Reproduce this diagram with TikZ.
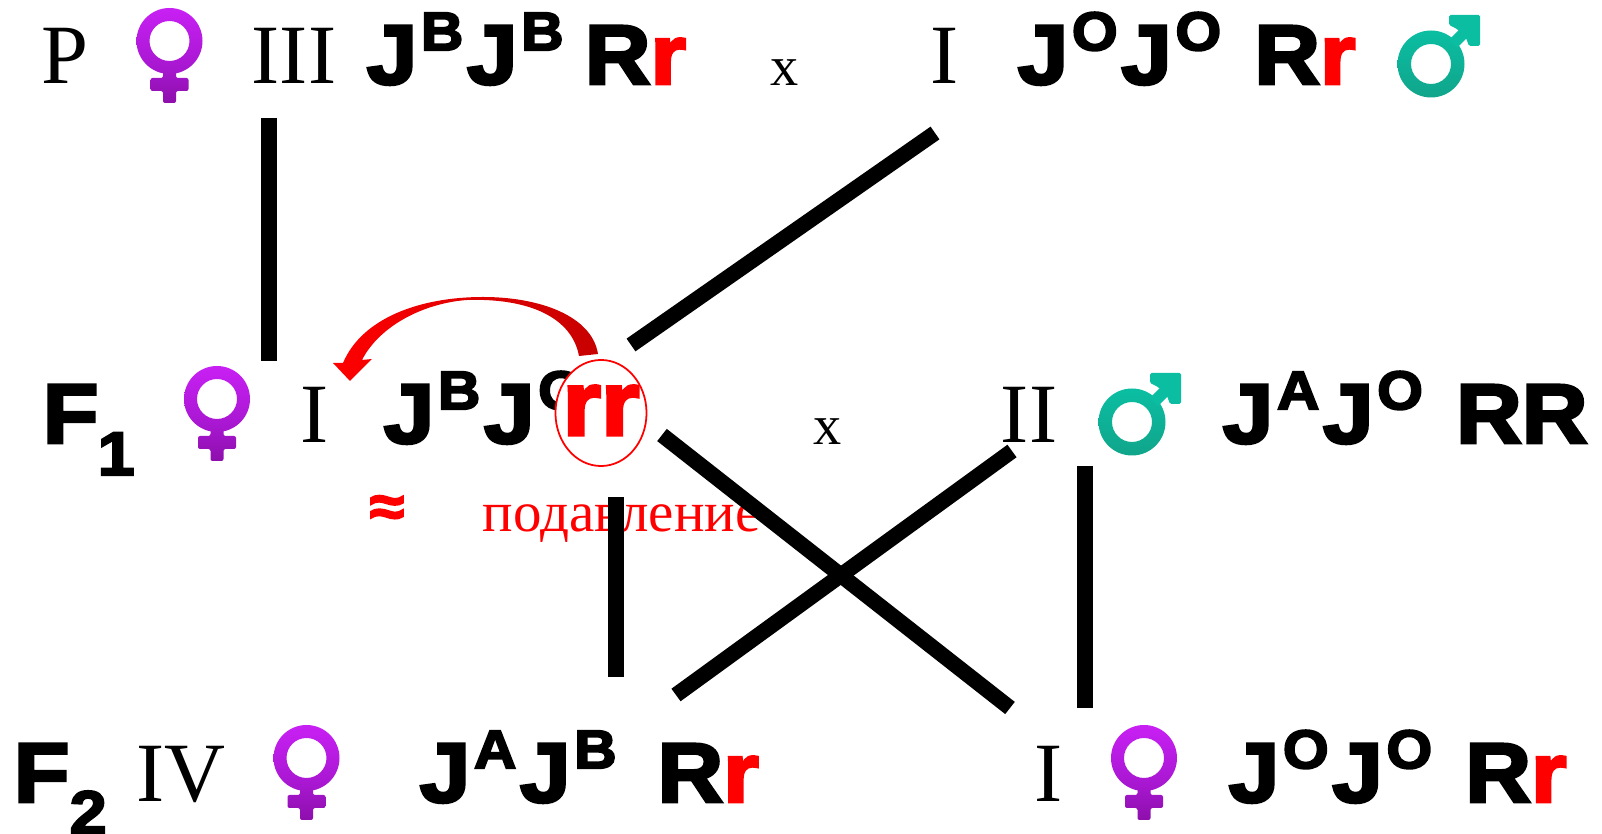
\documentclass[tikz,border=0pt]{standalone}
\usepackage{fontspec}
\usepackage{tikz}
\usetikzlibrary{shapes.geometric}
\setmainfont{Liberation Serif}
\newfontfamily\genefont[FakeBold=3.5,FakeStretch=1.08]{Liberation Sans Bold}
\definecolor{femtop}{HTML}{C820F4}
\definecolor{femmid}{HTML}{A416CC}
\definecolor{fembot}{HTML}{8E0FAC}
\definecolor{maletop}{HTML}{0BBEA2}
\definecolor{malebot}{HTML}{10A58B}
\newcommand{\gsup}[1]{\kern1pt\raisebox{9.6pt}{\fontsize{15.5}{16}\selectfont #1}\kern1pt}
\newcommand{\rr}{\textcolor{red}{r}}
\tikzset{
  genotype/.style={anchor=base west,inner sep=0pt,font=\genefont\fontsize{24}{26}\selectfont},
  roman/.style={anchor=base,inner sep=0pt,font=\fontsize{24}{26}\selectfont},
  crossmark/.style={anchor=base,inner sep=0pt,font=\fontsize{16}{18}\selectfont},
  gensub/.style={anchor=base west,inner sep=0pt,font=\genefont\fontsize{17.5}{20}\selectfont},
  crossline/.style={line width=0.155cm},
  stemline/.style={line width=0.16cm},
  femalesign/.pic={
    \shade[top color=femtop,bottom color=femmid,even odd rule] (0,0) circle[radius=33] (0,0) circle[radius=20];
    \shade[top color=femmid,bottom color=fembot,rounded corners=0.02cm] (-6.5,30) -- (6.5,30) -- (6.5,37) -- (19,37) -- (19,50) -- (6.5,50) -- (6.5,62) -- (-6.5,62) -- (-6.5,50) -- (-19,50) -- (-19,37) -- (-6.5,37) -- cycle;
  },
  malesign/.pic={
    \shade[top color=maletop,bottom color=malebot,even odd rule] (0,0) circle[radius=33.5] (0,0) circle[radius=20];
    \fill[maletop] (18,-24) -- (26,-16) -- (40,-30) -- (32,-38) -- cycle;
    \fill[maletop,rounded corners=0.015cm] (18,-49) -- (49,-49) -- (49,-18) -- (38,-18) -- (35,-26) -- (26,-35) -- (18,-39) -- cycle;
  }
}
\begin{document}
\begin{tikzpicture}[x=0.01cm,y=-0.01cm]
    \useasboundingbox (0,0) rectangle (1602,834);
    % row P
    \node[roman] (genP) at (65,84) {P};
    \pic (femP) at (169.5,41) {femalesign};
    \node[roman] (numP) at (294,84) {III};
    \node[genotype] (geneP) at (366,84) {J\gsup{B}J\gsup{B}\hspace*{5pt}R\rr};
    \node[crossmark] (crossP) at (785,86) {x};
    \node[roman] (numPm) at (945,84) {I};
    \node[genotype] (genePm) at (1017,84) {J\gsup{O}J\gsup{O}\hspace*{8.4pt}R\rr};
    \pic (maleP) at (1431,64) {malesign};
    % row F1
    \node[genotype] (genF) at (42,443) {F};
    \node[gensub] (subF) at (97,475) {1};
    \pic (femF) at (217,399) {femalesign};
    \node[roman] (numF) at (315,443) {I};
    \node[genotype] (geneF) at (383,443) {J\gsup{B}J\gsup{O}};
    \node[ellipse,draw=red,line width=0.5pt,fill=white,inner sep=0pt,minimum width=0.91cm,minimum height=1.06cm] (circF) at (601,413) {};
    \node[genotype,text=red,anchor=base,font=\genefont\fontsize{26}{28}\selectfont] (rrF) at (601,435) {rr};
    \node[crossmark] (crossF) at (828,445) {x};
    \node[roman] (numFm) at (1029,443) {II};
    \pic (maleF) at (1132,422) {malesign};
    \node[genotype] (geneFm) at (1222,443) {J\gsup{A}J\gsup{O}\hspace*{8.4pt}RR};
    % suppression
    \node[anchor=center,inner sep=0pt,text=red,font=\genefont\fontsize{16.5}{18}\selectfont] (approx) at (387,511) {≈};
    \node[anchor=base west,inner sep=0pt,text=red,font=\fontsize{16.2}{18}\selectfont] (supp) at (482,532) {подавление};
    % row F2
    \node[genotype] (genS) at (13,802) {F};
    \node[gensub] (subS) at (69,834) {2};
    \node[roman] (numS) at (181,802) {IV};
    \pic (femS) at (306.5,758) {femalesign};
    \node[genotype] (geneS) at (419,802) {J\gsup{A}J\gsup{B}\hspace*{10.6pt}R\rr};
    \node[roman] (numSm) at (1049,802) {I};
    \pic (femSm) at (1144,758) {femalesign};
    \node[genotype] (geneSm) at (1228,802) {J\gsup{O}J\gsup{O}\hspace*{8.4pt}R\rr};
    % connectors
    \coordinate (a1) at (269,118); \coordinate (a2) at (269,361);
    \coordinate (b1) at (935,133); \coordinate (b2) at (631,345);
    \coordinate (c1) at (662,435); \coordinate (c2) at (1010,708);
    \coordinate (d1) at (1012,451); \coordinate (d2) at (676,695);
    \coordinate (e1) at (616,497); \coordinate (e2) at (616,677);
    \coordinate (f1) at (1085,466); \coordinate (f2) at (1085,708);
    \draw[stemline] (a1) -- (a2);
    \draw[crossline] (b1) -- (b2);
    \draw[crossline] (c1) -- (c2);
    \draw[crossline] (d1) -- (d2);
    \draw[stemline] (e1) -- (e2);
    \draw[stemline] (f1) -- (f2);
    % curved arrow
    \shade[left color=red,middle color=red,right color=red!78!black]
      (598,354) .. controls (592,316) and (540,297) .. (483,297)
      .. controls (420,297) and (362,318) .. (343,363)
      -- (333,363) -- (350,381) -- (372,359) -- (362,360)
      .. controls (380,325) and (425,303) .. (467,300)
      .. controls (530,298) and (572,318) .. (579,356) -- cycle;
\end{tikzpicture}
\end{document}
